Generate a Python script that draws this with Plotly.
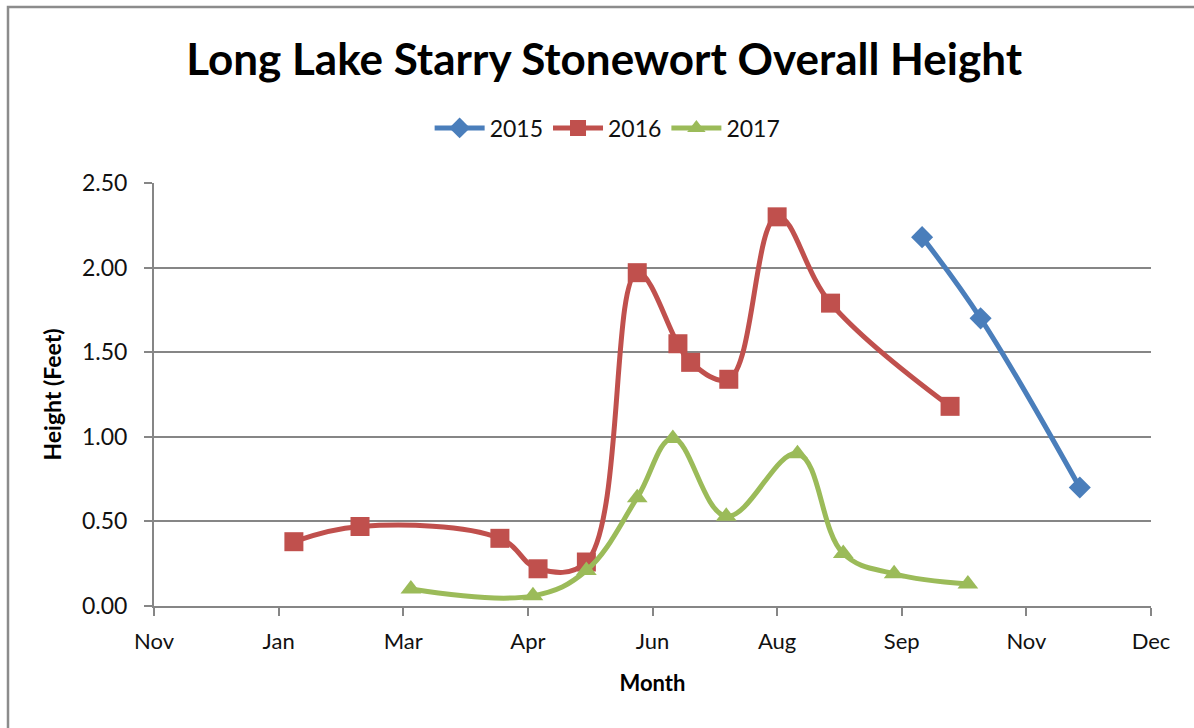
import pandas as pd
import plotly.graph_objects as go

# ---- data ----
dates_2015 = ["2016-09-27", "2016-10-20", "2016-11-28"]
height_2015 = [2.18, 1.70, 0.70]

dates_2016 = ["2016-01-24", "2016-02-19", "2016-04-14", "2016-04-29", "2016-05-18",
              "2016-06-07", "2016-06-23", "2016-06-28", "2016-07-13", "2016-08-01",
              "2016-08-22", "2016-10-08"]
height_2016 = [0.38, 0.47, 0.40, 0.22, 0.26, 1.97, 1.55, 1.44, 1.34, 2.30, 1.79, 1.18]

dates_2017 = ["2016-03-10", "2016-04-27", "2016-05-18", "2016-06-07", "2016-06-21",
              "2016-07-12", "2016-08-09", "2016-08-27", "2016-09-16", "2016-10-15"]
height_2017 = [0.10, 0.06, 0.21, 0.64, 0.99, 0.53, 0.90, 0.31, 0.19, 0.13]

tick_labels = ["Nov", "Jan", "Mar", "Apr", "Jun", "Aug", "Sep", "Nov", "Dec"]
y_ticks = [0.0, 0.5, 1.0, 1.5, 2.0, 2.5]

axis_start = "2015-11-30"
tick_dates = pd.date_range(start=axis_start, periods=len(tick_labels), freq="49D")

FONT = "Lato"
GRID = "#868686"
TXT = "#111111"

fig = go.Figure()

series = [
    ("2015", dates_2015, height_2015, "#4A7EBB", "diamond", 17),
    ("2016", dates_2016, height_2016, "#C0504D", "square", 19),
    ("2017", dates_2017, height_2017, "#9BBB59", "triangle-up", 18),
]
for name, xs, ys, color, sym, size in series:
    fig.add_trace(go.Scatter(
        x=pd.to_datetime(xs), y=ys, name=name, mode="lines+markers",
        line=dict(color=color, width=5, shape="spline", smoothing=1.1),
        marker=dict(symbol=sym, size=size, color=color, line=dict(width=0)),
    ))

fig.update_layout(
    width=1194, height=728,
    margin=dict(l=154, r=43, t=183, b=122),
    paper_bgcolor="white", plot_bgcolor="white",
    font=dict(family=FONT, color=TXT, size=22),
    title=dict(text="<b>Long Lake Starry Stonewort Overall Height</b>",
               x=0.506, xanchor="center", y=1 - 60 / 728, yanchor="middle",
               font=dict(family=FONT, size=44, color="black")),
    legend=dict(orientation="h", x=0.455, xanchor="center", y=(606 - 128) / 423,
                yanchor="middle", font=dict(size=23, color=TXT),
                itemwidth=50, tracegroupgap=0),
    showlegend=True,
)

fig.update_xaxes(
    range=[tick_dates[0], tick_dates[-1]],
    tickmode="array", tickvals=tick_dates, ticktext=tick_labels,
    showgrid=False, showline=True, linecolor=GRID, linewidth=2,
    ticks="outside", ticklen=8, tickwidth=2, tickcolor=GRID,
    tickfont=dict(size=22, color=TXT), ticklabelstandoff=7,
    title=dict(text="<b>Month</b>", font=dict(size=22, color="black"), standoff=22),
    zeroline=False,
)
fig.update_yaxes(
    range=[0, 2.5], tickmode="array", tickvals=y_ticks,
    ticktext=[f"{v:.2f}" for v in y_ticks],
    showgrid=True, gridcolor=GRID, gridwidth=2,
    showline=True, linecolor=GRID, linewidth=2,
    ticks="outside", ticklen=8, tickwidth=2, tickcolor=GRID,
    tickfont=dict(size=23, color=TXT), ticklabelstandoff=12,
    title=dict(text="<b>Height (Feet)</b>", font=dict(size=23, color="black"), standoff=14),
    zeroline=False,
)

# outer chart border
fig.add_shape(type="rect", xref="paper", yref="paper",
              x0=(8 - 154) / 997, x1=(1210 - 154) / 997,
              y0=(606 - 760) / 423, y1=(606 - 7) / 423,
              line=dict(color="#8c8c8c", width=2.5), fillcolor="rgba(0,0,0,0)",
              layer="below")

fig.write_html("out.html")
